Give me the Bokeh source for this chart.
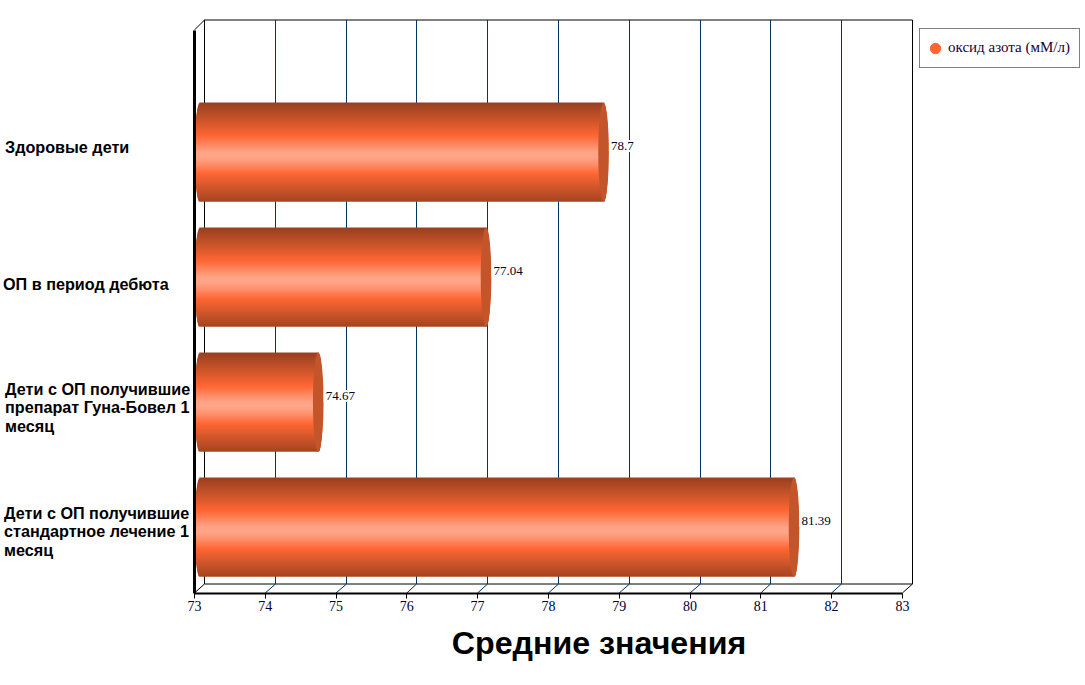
import math
from bokeh.core.properties import value
from bokeh.embed import file_html
from bokeh.models import ColumnDataSource, FixedTicker, Legend, LegendItem, LinearAxis, Range1d
from bokeh.plotting import figure
from bokeh.resources import INLINE

categories = ["Здоровые дети", "ОП в период дебюта",
              "Дети с ОП получившие\nпрепарат Гуна-Бовел 1\nмесяц",
              "Дети с ОП получившие\nстандартное лечение 1\nмесяц"]
values = [78.7, 77.04, 74.67, 81.39]
value_labels = ["78.7", "77.04", "74.67", "81.39"]
ticks = [73, 74, 75, 76, 77, 78, 79, 80, 81, 82, 83]
series_name = "оксид азота (мМ/л)"
axis_title = "Средние значения"

# styling / geometry: the plot frame fills the canvas so nothing is clipped
PX_X = 70.8
PX_Y = 125.0
W, H = 1085, 685
X_SHIFT = 0.5   # the rendered frame sits half a pixel to the right
X73_PX = 194.4 - X_SHIFT
Y0_PX = 526.5   # pixel row of the lowest category
x_start = 73 - X73_PX / PX_X
x_end = x_start + W / PX_X
y_start = -(H - Y0_PX) / PX_Y
y_end = y_start + H / PX_Y


def xpx(px):
    return x_start + (px - X_SHIFT) / PX_X


def ypx(px):
    return y_start + (H - px) / PX_Y


def back_x(tick):
    # tick position on the back wall, snapped to a pixel centre
    return xpx(math.floor(204.5 + (tick - 73) * PX_X) + 0.5)


BAR_H = 99 / PX_Y
CAP_A = 5.3 / PX_X
CAP_SHIFT = 5.6 / PX_X
ROWS = 99
STOPS = [(0.0, (0x98, 0x3f, 0x20)), (0.17, (0xc8, 0x54, 0x2a)), (0.335, (0xff, 0x66, 0x33)),
         (0.44, (0xff, 0x8c, 0x68)), (0.50, (0xff, 0xa4, 0x86)), (0.56, (0xff, 0xa4, 0x86)), (0.63, (0xff, 0x8c, 0x68)),
         (0.72, (0xff, 0x66, 0x33)), (0.88, (0xc8, 0x54, 0x2a)), (1.0, (0xa6, 0x44, 0x20))]


def shade(t):
    for (t0, c0), (t1, c1) in zip(STOPS, STOPS[1:]):
        if t <= t1:
            f = (t - t0) / (t1 - t0)
            return "#%02x%02x%02x" % tuple(round(a + (b - a) * f) for a, b in zip(c0, c1))
    return "#a64420"


p = figure(width=W, height=H, output_backend="svg", toolbar_location=None,
           x_range=Range1d(x_start, x_end), y_range=Range1d(y_start, y_end),
           x_axis_location=None, y_axis_location=None,
           min_border_left=0, min_border_right=0, min_border_top=0, min_border_bottom=0,
           background_fill_color="white", border_fill_color="white", outline_line_color=None)
p.xgrid.visible = False
p.ygrid.visible = False

# back wall and floor of the 3D box
floor_front = ypx(592.5)
floor_back = ypx(583.5)
wall_top = ypx(19.5)
axis_top = ypx(29.5)
bx0, bx1 = back_x(73), back_x(83)
wall = ColumnDataSource(dict(
    x0=[bx0, bx0, bx1, bx0, 73, 73, 83],
    x1=[bx1, bx1, bx1, bx0, bx0, bx0, bx1],
    y0=[wall_top, floor_back, floor_back, floor_back, axis_top, floor_front, floor_front],
    y1=[wall_top, floor_back, wall_top, wall_top, wall_top, floor_back, floor_back]))
p.segment("x0", "y0", "x1", "y1", source=wall, line_color="black", line_width=1)
inner = ticks[1:-1]
inner_back = [back_x(t) for t in inner]
p.segment(x0=inner_back, y0=[floor_back] * len(inner), x1=inner_back,
          y1=[wall_top] * len(inner), line_color="#003366", line_width=1)
p.segment(x0=inner, y0=[floor_front] * len(inner), x1=inner_back, y1=[floor_back] * len(inner),
          line_color="#003366", line_width=1)

ys = [len(categories) - 1 - i for i in range(len(categories))]

# legend renderer sits under the bars
legend_r = p.scatter(values, ys, size=1, marker="circle", fill_color="#ff6633", line_color="#ff6633")

# gradient tube bodies: painted top to bottom, each band overlapped by the next
left, right, yy, hh, col = [], [], [], [], []
row_h = BAR_H / ROWS
for v, y in zip(values, ys):
    bottom = y - BAR_H / 2
    for r in range(ROWS):
        f = (r + 0.5) / ROWS
        k = math.sqrt(max(0.0, 1 - (2 * f - 1) ** 2))
        top = y + BAR_H / 2 - r * row_h
        low = max(bottom, top - 2.5 * row_h)
        left.append(73 + CAP_SHIFT - CAP_A * k)
        right.append(v + CAP_SHIFT + (CAP_A - 0.7 / PX_X) * k)
        yy.append((top + low) / 2)
        hh.append(top - low)
        col.append(shade(f))
p.hbar(y="y", left="l", right="r", height="h", fill_color="c", fill_alpha=1, line_color=None,
       source=ColumnDataSource(dict(y=yy, l=left, r=right, h=hh, c=col)))

# tube end caps
p.ellipse(x=[v + CAP_SHIFT for v in values], y=ys, width=2 * CAP_A, height=BAR_H,
          fill_color="#c4552a", fill_alpha=1, line_color=None)

# value labels
p.text(x=values, y=ys, text=value_labels, x_offset=11, y_offset=-6, text_align="left", text_baseline="middle",
       text_font=value("Liberation Serif"), text_font_size="13px", text_color="#000022",
       background_fill_color="white", background_fill_alpha=1, padding=2)

# axes
xaxis = LinearAxis(ticker=FixedTicker(ticks=ticks), bounds=(73, 83), fixed_location=floor_front,
                   axis_line_color="black", axis_line_width=2,
                   major_tick_line_color="black", major_tick_line_width=1, major_tick_out=5, major_tick_in=0,
                   minor_tick_line_color=None, major_label_standoff=3,
                   major_label_text_font="Liberation Serif", major_label_text_font_size="14px",
                   major_label_text_color="#000033")
p.add_layout(xaxis, "below")
yaxis = LinearAxis(ticker=FixedTicker(ticks=[]), bounds=(floor_front, axis_top), fixed_location=73,
                   axis_line_color="black", axis_line_width=3,
                   major_tick_line_color=None, minor_tick_line_color=None)
p.add_layout(yaxis, "left")

# category labels, left aligned
label_x = [5, 3, 5, 4]
label_y = [146, 283, 407, 531]
p.text(x=[xpx(v) for v in label_x], y=[ypx(v) for v in label_y], text=categories, text_align="left",
       text_baseline="middle", text_font=value("Liberation Sans"), text_font_style="bold",
       text_font_size="16.2px", text_color="black", text_line_height=1.05)

p.text(x=[xpx(599)], y=[ypx(642)], text=[axis_title], text_align="center",
       text_baseline="middle", text_font=value("Liberation Sans"), text_font_style="bold",
       text_font_size="32.2px", text_color="black")

legend = Legend(items=[LegendItem(label=value(series_name), renderers=[legend_r])],
                location=(919, H - 67.5), orientation="vertical", border_line_color="black", border_line_width=1,
                background_fill_color="white", background_fill_alpha=1,
                label_text_font="Liberation Serif", label_text_font_size="15px", label_text_color="#1a0033",
                glyph_width=26, glyph_height=34, label_standoff=0, padding=2, margin=0, spacing=0,
                label_height=34, label_width=129)
p.add_layout(legend, "center")

open("out.html", "w").write(file_html(p, INLINE))
